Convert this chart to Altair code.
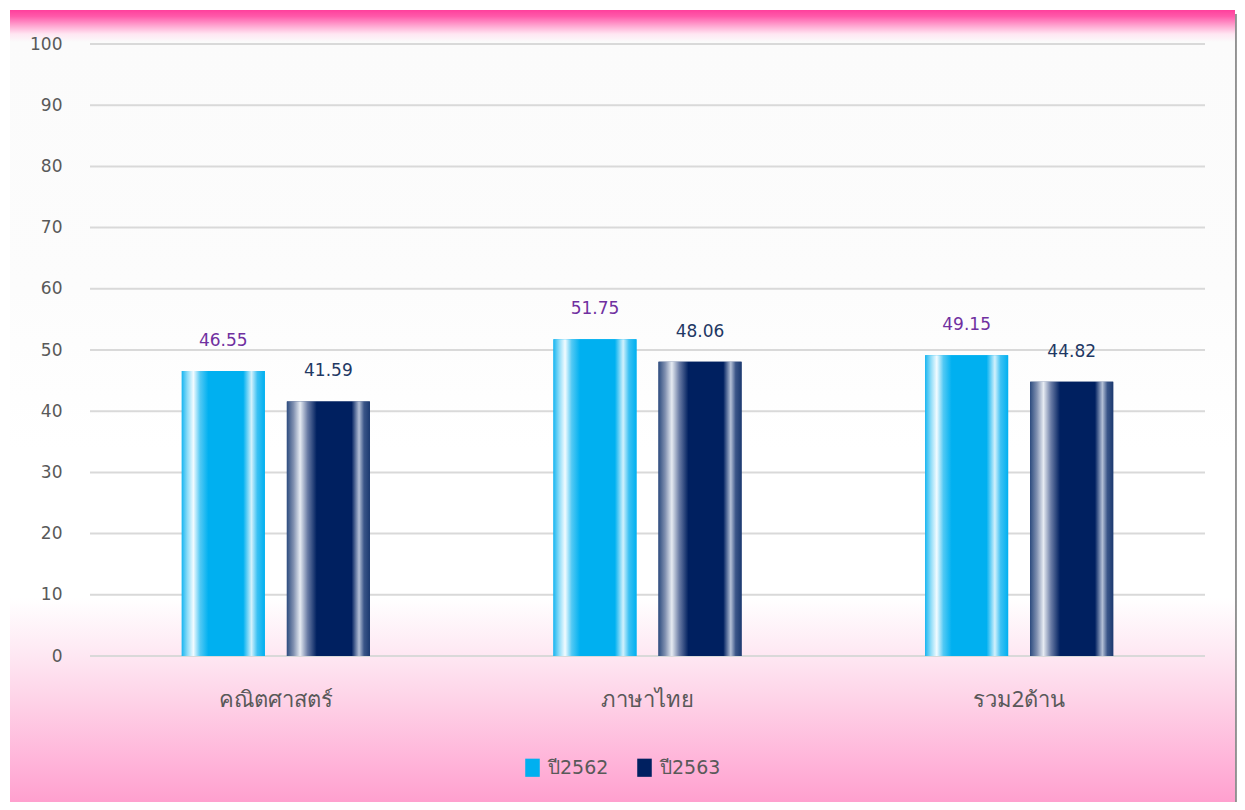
import altair as alt
import pandas as pd

categories = ["คณิตศาสตร์", "ภาษาไทย", "รวม2ด้าน"]
series = ["ปี2562", "ปี2563"]
y2562 = [46.55, 51.75, 49.15]
y2563 = [41.59, 48.06, 44.82]
yticks = [0, 10, 20, 30, 40, 50, 60, 70, 80, 90, 100]

rows = []
for c, a, b in zip(categories, y2562, y2563):
    rows.append({"cat": c, "series": series[0], "v": a})
    rows.append({"cat": c, "series": series[1], "v": b})
df = pd.DataFrame(rows)
ticks_df = pd.DataFrame({"t": yticks})

W, H = 1115, 612
FONT = "Noto Sans"
NUMFONT = "DejaVu Sans"
GREY = "#595959"

def grad_h(stops):
    return alt.Gradient(gradient="linear", x1=0, x2=1, y1=0, y2=0,
                        stops=[alt.GradientStop(color=c, offset=o) for o, c in stops])

def grad_v(stops):
    return alt.Gradient(gradient="linear", x1=0, x2=0, y1=0, y2=1,
                        stops=[alt.GradientStop(color=c, offset=o) for o, c in stops])

bg_fill = grad_v([
    (0.0, "#FF3F9C"), (0.008, "#FF5AAA"), (0.02, "#FFA8D2"), (0.03, "#FFE6F2"),
    (0.04, "#FBFBFB"), (0.35, "#FCFCFC"), (0.55, "#FFFFFF"), (0.735, "#FFFFFF"),
    (0.8, "#FEEAF4"), (0.87, "#FED0E6"), (0.94, "#FFB4D9"), (1.0, "#FF9CCC"),
])
shadow_fill = grad_h([(0.0, "#8C8C8C"), (0.5, "#B5B5B5"), (1.0, "#EFEFEF")])

light_fill = grad_h([
    (0.0, "#1AB6F1"), (0.07, "#8FDDF8"), (0.14, "#F2FBFF"), (0.22, "#52C9F4"),
    (0.32, "#00B0F0"), (0.74, "#00B0F0"), (0.84, "#D2F1FC"), (0.91, "#3BC1F3"), (1.0, "#00B0F0"),
])
dark_fill = grad_h([
    (0.0, "#2E4D80"), (0.08, "#8090B0"), (0.16, "#E6EBF2"), (0.25, "#6A7CA5"),
    (0.36, "#002060"), (0.78, "#002060"), (0.87, "#B4C0D6"), (0.93, "#3A5588"), (1.0, "#1C3A70"),
])

one = alt.Data(values=[{"k": 0}])

background = alt.Chart(one).mark_rect(fill=bg_fill).encode(
    x=alt.value(-80), x2=alt.value(1145), y=alt.value(-34), y2=alt.value(766)
)
shadow = alt.Chart(one).mark_rect(fill=shadow_fill).encode(
    x=alt.value(1145), x2=alt.value(1153), y=alt.value(-30), y2=alt.value(780)
)

y_scale = alt.Scale(domain=[0, 100], nice=False)

grid = alt.Chart(ticks_df).mark_rule(color="#D9D9D9", strokeWidth=2).encode(
    y=alt.Y("t:Q", scale=y_scale),
    x=alt.value(0), x2=alt.value(W),
)

x_enc = alt.X("cat:N", sort=categories,
              scale=alt.Scale(paddingInner=0.494, paddingOuter=0.247),
              axis=alt.Axis(title=None, labelAngle=0, labelFontSize=22, labelColor=GREY,
                            labelFont=FONT, ticks=False, domain=False, labelPadding=33,
                            zindex=1))
xo_enc = alt.XOffset("series:N", sort=series,
                     scale=alt.Scale(paddingInner=0.21, paddingOuter=0))
y_enc = alt.Y("v:Q", scale=y_scale,
              axis=alt.Axis(title=None, values=yticks, grid=False, domain=False, ticks=False,
                            labelFontSize=17, labelColor=GREY, labelFont=NUMFONT,
                            labelPadding=28, zindex=1))

base_bars = alt.Chart(df).mark_bar().encode(
    x=x_enc, xOffset=xo_enc, y=y_enc,
    color=alt.Color("series:N", sort=series,
                    scale=alt.Scale(domain=series, range=["#00B0F0", "#002060"]),
                    legend=alt.Legend(title=None, orient="none", direction="horizontal",
                                      legendX=433, legendY=714, labelFontSize=19,
                                      labelColor=GREY, labelFont=NUMFONT,
                                      symbolType="M-0.8,-1H0.8V1H-0.8Z",
                                      symbolSize=330, symbolStrokeWidth=0,
                                      columnPadding=26, labelOffset=6, zindex=1)),
)

bars_a = alt.Chart(df).transform_filter(alt.datum.series == series[0]).mark_bar(
    fill=light_fill).encode(x=x_enc, xOffset=xo_enc, y=y_enc)
bars_b = alt.Chart(df).transform_filter(alt.datum.series == series[1]).mark_bar(
    fill=dark_fill).encode(x=x_enc, xOffset=xo_enc, y=y_enc)

text_a = alt.Chart(df).transform_filter(alt.datum.series == series[0]).mark_text(
    baseline="bottom", dy=-21, fontSize=17, font=NUMFONT, color="#7030A0").encode(
    x=x_enc, xOffset=xo_enc, y=y_enc, text=alt.Text("v:Q", format=".2f"))
text_b = alt.Chart(df).transform_filter(alt.datum.series == series[1]).mark_text(
    baseline="bottom", dy=-21, fontSize=17, font=NUMFONT, color="#1F3864").encode(
    x=x_enc, xOffset=xo_enc, y=y_enc, text=alt.Text("v:Q", format=".2f"))

chart = alt.layer(background, shadow, grid, base_bars, bars_a, bars_b, text_a, text_b).properties(
    width=W, height=H,
    autosize=alt.AutoSizeParams(type="none"),
    padding={"left": 82, "top": 36, "right": 32, "bottom": 146},
).configure_view(stroke=None).configure(background="white")

chart.save("out.html", embed_options={"renderer": "svg", "actions": False})
